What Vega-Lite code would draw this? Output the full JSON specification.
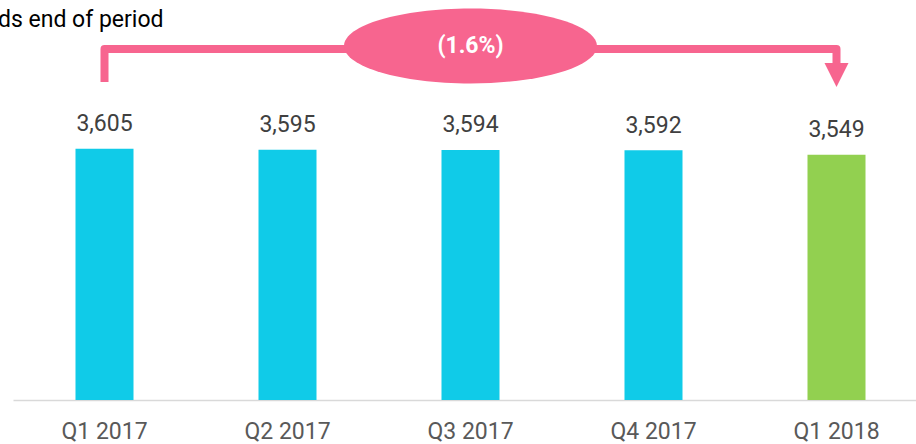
{
  "$schema": "https://vega.github.io/schema/vega-lite/v6.json",
  "width": 903,
  "height": 400,
  "autosize": {"type": "none"},
  "padding": {"left": 13, "top": 0, "right": 0, "bottom": 44},
  "background": "white",
  "config": {"view": {"stroke": null}, "font": "Roboto"},
  "title": {
    "text": "ds end of period",
    "anchor": "start",
    "frame": "group",
    "orient": "top",
    "baseline": "alphabetic",
    "offset": -50,
    "dx": -15,
    "fontSize": 23,
    "fontWeight": "normal",
    "font": "Roboto",
    "color": "#000000"
  },
  "datasets": {
    "bars": [
      {"quarter": "Q1 2017", "value": 3605, "base": 1250, "latest": "no"},
      {"quarter": "Q2 2017", "value": 3595, "base": 1250, "latest": "no"},
      {"quarter": "Q3 2017", "value": 3594, "base": 1250, "latest": "no"},
      {"quarter": "Q4 2017", "value": 3592, "base": 1250, "latest": "no"},
      {"quarter": "Q1 2018", "value": 3549, "base": 1250, "latest": "yes"}
    ],
    "bracket": [
      {"quarter": "Q1 2017", "level": 4231, "i": 1},
      {"quarter": "Q1 2017", "level": 4541, "i": 2},
      {"quarter": "Q1 2018", "level": 4541, "i": 3},
      {"quarter": "Q1 2018", "level": 4391, "i": 4}
    ],
    "arrow": [
      {"quarter": "Q1 2018", "level": 4297}
    ],
    "badge": [
      {"quarter": "Q3 2017", "level": 4569, "label": "(1.6%)"}
    ]
  },
  "data": {"name": "bars"},
  "encoding": {
    "x": {
      "field": "quarter",
      "type": "nominal",
      "sort": ["Q1 2017", "Q2 2017", "Q3 2017", "Q4 2017", "Q1 2018"],
      "scale": {"range": [0, 915], "paddingInner": 0, "paddingOuter": 0},
      "axis": {
        "title": null,
        "ticks": false,
        "domainColor": "#d9d9d9",
        "domainWidth": 1.5,
        "labelAngle": 0,
        "labelFont": "Roboto",
        "labelFontSize": 23,
        "labelColor": "#595959",
        "labelBaseline": "alphabetic",
        "labelPadding": 38,
        "grid": false
      }
    }
  },
  "layer": [
    {
      "mark": {"type": "bar", "width": {"band": 0.317}},
      "encoding": {
        "y": {
          "field": "value",
          "type": "quantitative",
          "scale": {"domain": [1250, 5000], "zero": false, "nice": false},
          "axis": null
        },
        "y2": {"field": "base"},
        "color": {
          "field": "latest",
          "type": "nominal",
          "scale": {"domain": ["no", "yes"], "range": ["#10CBE8", "#92D050"]},
          "legend": null
        }
      }
    },
    {
      "mark": {"type": "text", "baseline": "alphabetic", "dy": -17.5, "fontSize": 23, "font": "Roboto", "color": "#404040"},
      "encoding": {
        "y": {"field": "value", "type": "quantitative"},
        "text": {"field": "value", "type": "quantitative", "format": ","}
      }
    },
    {
      "data": {"name": "bracket"},
      "mark": {"type": "line", "color": "#F7658F", "strokeWidth": 8, "strokeJoin": "round", "strokeCap": "butt"},
      "encoding": {
        "y": {"field": "level", "type": "quantitative"},
        "order": {"field": "i", "type": "quantitative"}
      }
    },
    {
      "data": {"name": "arrow"},
      "mark": {"type": "point", "shape": "M-1,-1L1,-1L0,1Z", "size": 576, "filled": true, "opacity": 1, "color": "#F7658F", "strokeWidth": 0},
      "encoding": {
        "y": {"field": "level", "type": "quantitative"}
      }
    },
    {
      "data": {"name": "badge"},
      "mark": {"type": "point", "shape": "M-1,0C-1,-0.1635,-0.5523,-0.296,0,-0.296C0.5523,-0.296,1,-0.1635,1,0C1,0.1635,0.5523,0.296,0,0.296C-0.5523,0.296,-1,0.1635,-1,0Z", "size": 64009, "filled": true, "opacity": 1, "color": "#F7658F", "strokeWidth": 0},
      "encoding": {
        "y": {"field": "level", "type": "quantitative"}
      }
    },
    {
      "data": {"name": "badge"},
      "mark": {"type": "text", "baseline": "middle", "align": "center", "fontSize": 23, "fontWeight": "bold", "font": "Roboto", "color": "#ffffff"},
      "encoding": {
        "y": {"field": "level", "type": "quantitative"},
        "text": {"field": "label"}
      }
    }
  ]
}
